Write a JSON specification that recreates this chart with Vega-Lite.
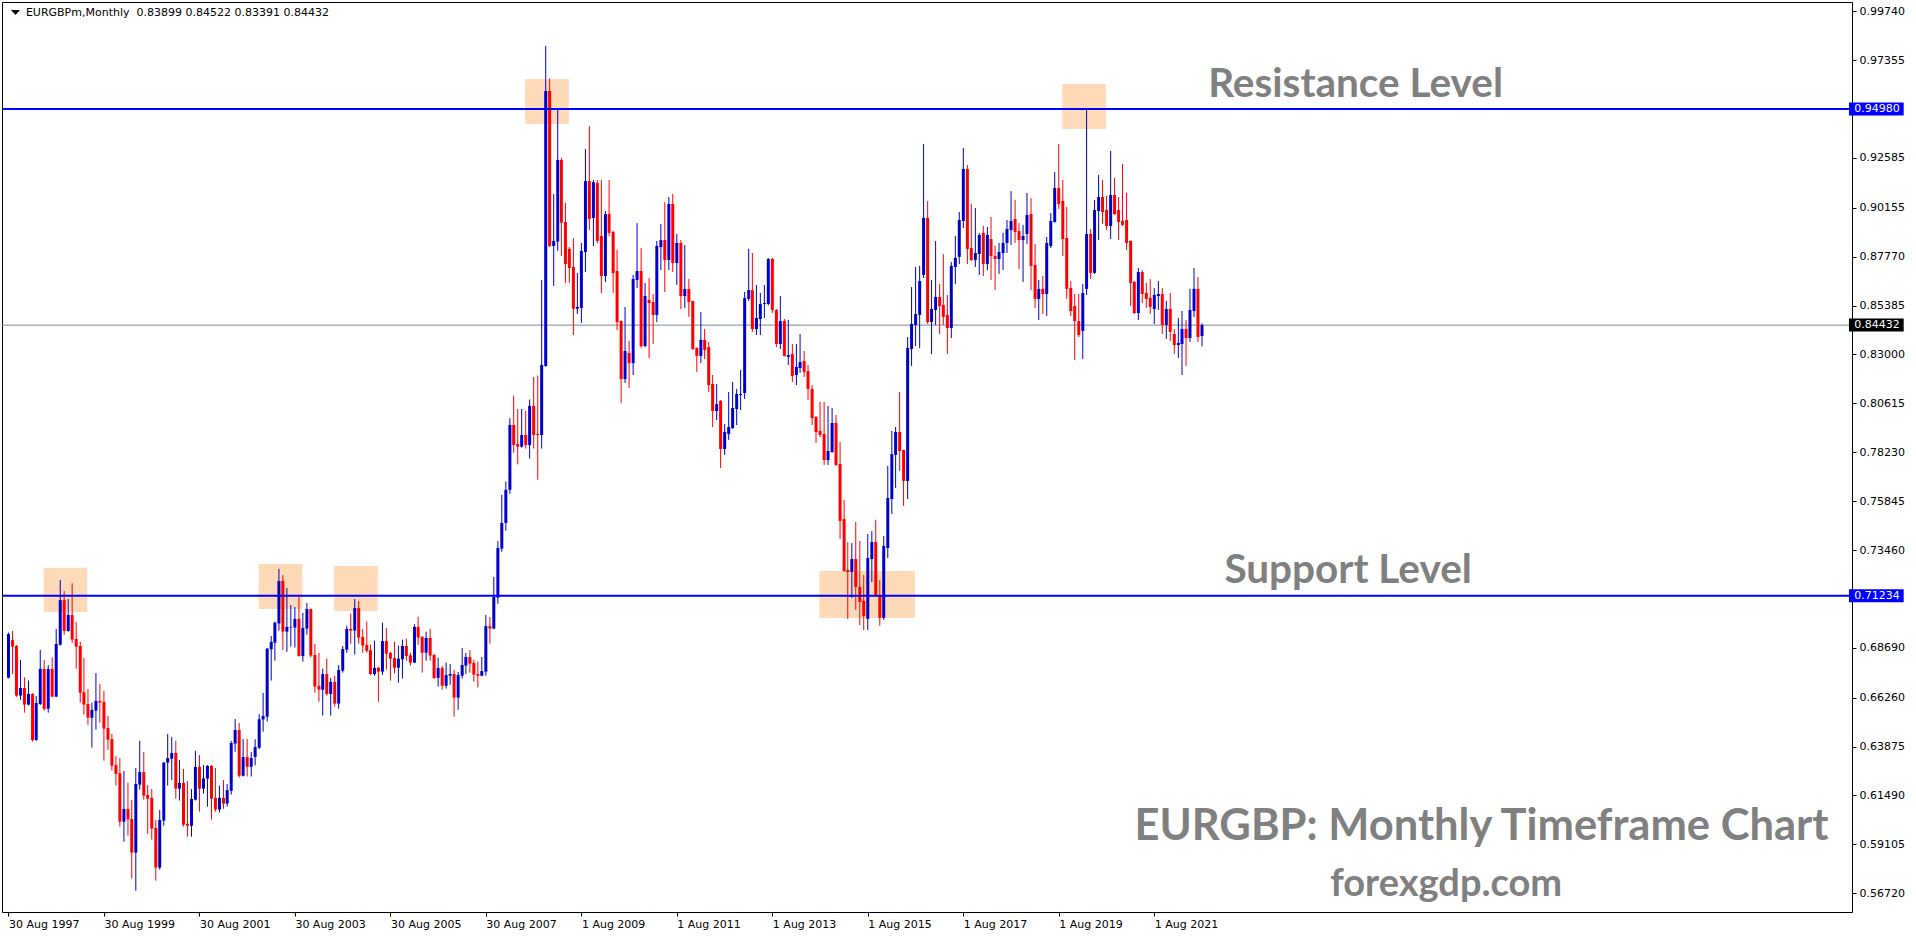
{
"$schema": "https://vega.github.io/schema/vega-lite/v6.json",
"width": 1850, "height": 910,
"autosize": {"type": "none"},
"padding": {"left": 2, "top": 2, "right": 64, "bottom": 24},
"background": "#ffffff",
"config": {"view": {"stroke": "#000000", "strokeWidth": 1}, "axis": {"labelFont": "DejaVu Sans", "labelFontSize": 11, "labelColor": "#000000", "tickColor": "#000000", "tickSize": 4, "grid": false, "domain": false}},
"datasets": {
"levels": [{"level": "Resistance", "price": 0.9498}, {"level": "Support", "price": 0.71234}, {"level": "Current", "price": 0.84432}],
"zones": [
{"start": "1998-04-27", "end": "1999-03-27", "low": 0.70438, "high": 0.72599},
{"start": "2002-10-27", "end": "2003-09-27", "low": 0.70584, "high": 0.72779},
{"start": "2004-05-27", "end": "2005-04-27", "low": 0.70487, "high": 0.72682},
{"start": "2008-05-27", "end": "2009-04-27", "low": 0.94243, "high": 0.96438},
{"start": "2014-07-27", "end": "2016-07-27", "low": 0.70145, "high": 0.72438},
{"start": "2019-08-27", "end": "2020-07-27", "low": 0.93999, "high": 0.96194}
],
"candles": [
{"date":"1997-08-01","open":0.6723,"high":0.6943,"low":0.6720,"close":0.6936},
{"date":"1997-09-01","open":0.6907,"high":0.6951,"low":0.6741,"close":0.6875},
{"date":"1997-10-01","open":0.6878,"high":0.6882,"low":0.6630,"close":0.6636},
{"date":"1997-11-01","open":0.6636,"high":0.6810,"low":0.6615,"close":0.6673},
{"date":"1997-12-01","open":0.6673,"high":0.6725,"low":0.6553,"close":0.6592},
{"date":"1998-01-01","open":0.6592,"high":0.6709,"low":0.6588,"close":0.6644},
{"date":"1998-02-01","open":0.6644,"high":0.6648,"low":0.6412,"close":0.6419},
{"date":"1998-03-01","open":0.6419,"high":0.6634,"low":0.6416,"close":0.6600},
{"date":"1998-04-01","open":0.6595,"high":0.6858,"low":0.6590,"close":0.6766},
{"date":"1998-05-01","open":0.6766,"high":0.6810,"low":0.6563,"close":0.6571},
{"date":"1998-06-01","open":0.6572,"high":0.6785,"low":0.6553,"close":0.6766},
{"date":"1998-07-01","open":0.6766,"high":0.6823,"low":0.6628,"close":0.6631},
{"date":"1998-08-01","open":0.6631,"high":0.6961,"low":0.6628,"close":0.6888},
{"date":"1998-09-01","open":0.6884,"high":0.7200,"low":0.6880,"close":0.7102},
{"date":"1998-10-01","open":0.7102,"high":0.7146,"low":0.6932,"close":0.6951},
{"date":"1998-11-01","open":0.6951,"high":0.7107,"low":0.6948,"close":0.7029},
{"date":"1998-12-01","open":0.7029,"high":0.7184,"low":0.6893,"close":0.6909},
{"date":"1999-01-01","open":0.6912,"high":0.6995,"low":0.6767,"close":0.6875},
{"date":"1999-02-01","open":0.6878,"high":0.6899,"low":0.6602,"close":0.6650},
{"date":"1999-03-01","open":0.6653,"high":0.6819,"low":0.6543,"close":0.6592},
{"date":"1999-04-01","open":0.6595,"high":0.6668,"low":0.6494,"close":0.6528},
{"date":"1999-05-01","open":0.6528,"high":0.6602,"low":0.6382,"close":0.6566},
{"date":"1999-06-01","open":0.6563,"high":0.6746,"low":0.6470,"close":0.6610},
{"date":"1999-07-01","open":0.6610,"high":0.6693,"low":0.6504,"close":0.6602},
{"date":"1999-08-01","open":0.6605,"high":0.6658,"low":0.6319,"close":0.6475},
{"date":"1999-09-01","open":0.6478,"high":0.6537,"low":0.6372,"close":0.6421},
{"date":"1999-10-01","open":0.6424,"high":0.6449,"low":0.6270,"close":0.6294},
{"date":"1999-11-01","open":0.6297,"high":0.6341,"low":0.6197,"close":0.6254},
{"date":"1999-12-01","open":0.6257,"high":0.6331,"low":0.5997,"close":0.6021},
{"date":"2000-01-01","open":0.6021,"high":0.6268,"low":0.5923,"close":0.6083},
{"date":"2000-02-01","open":0.6083,"high":0.6211,"low":0.5953,"close":0.6032},
{"date":"2000-03-01","open":0.6034,"high":0.6127,"low":0.5743,"close":0.5870},
{"date":"2000-04-01","open":0.5870,"high":0.6283,"low":0.5684,"close":0.6205},
{"date":"2000-05-01","open":0.6202,"high":0.6415,"low":0.6177,"close":0.6263},
{"date":"2000-06-01","open":0.6263,"high":0.6361,"low":0.6128,"close":0.6148},
{"date":"2000-07-01","open":0.6151,"high":0.6200,"low":0.5962,"close":0.6133},
{"date":"2000-08-01","open":0.6137,"high":0.6180,"low":0.5933,"close":0.5987},
{"date":"2000-09-01","open":0.5990,"high":0.6029,"low":0.5733,"close":0.5797},
{"date":"2000-10-01","open":0.5797,"high":0.6078,"low":0.5787,"close":0.6029},
{"date":"2000-11-01","open":0.6026,"high":0.6312,"low":0.6001,"close":0.6309},
{"date":"2000-12-01","open":0.6309,"high":0.6449,"low":0.6197,"close":0.6331},
{"date":"2001-01-01","open":0.6328,"high":0.6434,"low":0.6224,"close":0.6356},
{"date":"2001-02-01","open":0.6356,"high":0.6415,"low":0.6133,"close":0.6182},
{"date":"2001-03-01","open":0.6182,"high":0.6322,"low":0.6124,"close":0.6210},
{"date":"2001-04-01","open":0.6210,"high":0.6278,"low":0.5997,"close":0.6006},
{"date":"2001-05-01","open":0.6010,"high":0.6219,"low":0.5948,"close":0.6001},
{"date":"2001-06-01","open":0.6001,"high":0.6180,"low":0.5948,"close":0.6132},
{"date":"2001-07-01","open":0.6128,"high":0.6366,"low":0.6124,"close":0.6288},
{"date":"2001-08-01","open":0.6288,"high":0.6346,"low":0.6070,"close":0.6182},
{"date":"2001-09-01","open":0.6182,"high":0.6297,"low":0.6158,"close":0.6232},
{"date":"2001-10-01","open":0.6231,"high":0.6297,"low":0.6094,"close":0.6293},
{"date":"2001-11-01","open":0.6293,"high":0.6297,"low":0.6031,"close":0.6133},
{"date":"2001-12-01","open":0.6137,"high":0.6283,"low":0.6070,"close":0.6080},
{"date":"2002-01-01","open":0.6080,"high":0.6197,"low":0.6065,"close":0.6137},
{"date":"2002-02-01","open":0.6137,"high":0.6224,"low":0.6084,"close":0.6109},
{"date":"2002-03-01","open":0.6109,"high":0.6205,"low":0.6094,"close":0.6175},
{"date":"2002-04-01","open":0.6172,"high":0.6415,"low":0.6153,"close":0.6405},
{"date":"2002-05-01","open":0.6402,"high":0.6522,"low":0.6362,"close":0.6468},
{"date":"2002-06-01","open":0.6468,"high":0.6502,"low":0.6236,"close":0.6245},
{"date":"2002-07-01","open":0.6245,"high":0.6424,"low":0.6241,"close":0.6336},
{"date":"2002-08-01","open":0.6336,"high":0.6424,"low":0.6241,"close":0.6289},
{"date":"2002-09-01","open":0.6289,"high":0.6361,"low":0.6241,"close":0.6331},
{"date":"2002-10-01","open":0.6337,"high":0.6423,"low":0.6296,"close":0.6385},
{"date":"2002-11-01","open":0.6382,"high":0.6545,"low":0.6374,"close":0.6520},
{"date":"2002-12-01","open":0.6520,"high":0.6649,"low":0.6460,"close":0.6537},
{"date":"2003-01-01","open":0.6533,"high":0.6868,"low":0.6509,"close":0.6865},
{"date":"2003-02-01","open":0.6862,"high":0.6927,"low":0.6709,"close":0.6898},
{"date":"2003-03-01","open":0.6894,"high":0.6997,"low":0.6806,"close":0.6992},
{"date":"2003-04-01","open":0.6988,"high":0.7254,"low":0.6953,"close":0.7195},
{"date":"2003-05-01","open":0.7195,"high":0.7224,"low":0.6858,"close":0.6948},
{"date":"2003-06-01","open":0.6948,"high":0.7161,"low":0.6850,"close":0.6971},
{"date":"2003-07-01","open":0.6968,"high":0.7078,"low":0.6875,"close":0.6971},
{"date":"2003-08-01","open":0.6968,"high":0.7068,"low":0.6870,"close":0.7010},
{"date":"2003-09-01","open":0.7010,"high":0.7117,"low":0.6826,"close":0.6829},
{"date":"2003-10-01","open":0.6829,"high":0.7039,"low":0.6802,"close":0.6966},
{"date":"2003-11-01","open":0.6963,"high":0.7088,"low":0.6933,"close":0.7058},
{"date":"2003-12-01","open":0.7058,"high":0.7060,"low":0.6821,"close":0.6831},
{"date":"2004-01-01","open":0.6834,"high":0.6888,"low":0.6650,"close":0.6680},
{"date":"2004-02-01","open":0.6683,"high":0.6844,"low":0.6606,"close":0.6665},
{"date":"2004-03-01","open":0.6665,"high":0.6767,"low":0.6538,"close":0.6741},
{"date":"2004-04-01","open":0.6741,"high":0.6816,"low":0.6636,"close":0.6644},
{"date":"2004-05-01","open":0.6644,"high":0.6722,"low":0.6538,"close":0.6703},
{"date":"2004-06-01","open":0.6703,"high":0.6732,"low":0.6582,"close":0.6597},
{"date":"2004-07-01","open":0.6597,"high":0.6785,"low":0.6572,"close":0.6761},
{"date":"2004-08-01","open":0.6758,"high":0.6878,"low":0.6748,"close":0.6863},
{"date":"2004-09-01","open":0.6860,"high":0.6977,"low":0.6845,"close":0.6961},
{"date":"2004-10-01","open":0.6961,"high":0.7036,"low":0.6889,"close":0.6953},
{"date":"2004-11-01","open":0.6953,"high":0.7107,"low":0.6836,"close":0.7063},
{"date":"2004-12-01","open":0.7063,"high":0.7097,"low":0.6889,"close":0.6919},
{"date":"2005-01-01","open":0.6922,"high":0.6961,"low":0.6845,"close":0.6880},
{"date":"2005-02-01","open":0.6883,"high":0.6997,"low":0.6845,"close":0.6855},
{"date":"2005-03-01","open":0.6858,"high":0.6885,"low":0.6737,"close":0.6741},
{"date":"2005-04-01","open":0.6741,"high":0.6904,"low":0.6733,"close":0.6771},
{"date":"2005-05-01","open":0.6771,"high":0.6776,"low":0.6606,"close":0.6753},
{"date":"2005-06-01","open":0.6753,"high":0.6992,"low":0.6737,"close":0.6902},
{"date":"2005-07-01","open":0.6902,"high":0.6966,"low":0.6763,"close":0.6841},
{"date":"2005-08-01","open":0.6844,"high":0.6850,"low":0.6709,"close":0.6816},
{"date":"2005-09-01","open":0.6819,"high":0.6899,"low":0.6743,"close":0.6772},
{"date":"2005-10-01","open":0.6772,"high":0.6880,"low":0.6699,"close":0.6816},
{"date":"2005-11-01","open":0.6813,"high":0.6909,"low":0.6719,"close":0.6878},
{"date":"2005-12-01","open":0.6878,"high":0.6914,"low":0.6806,"close":0.6829},
{"date":"2006-01-01","open":0.6832,"high":0.6845,"low":0.6782,"close":0.6797},
{"date":"2006-02-01","open":0.6797,"high":0.6984,"low":0.6795,"close":0.6971},
{"date":"2006-03-01","open":0.6971,"high":0.7021,"low":0.6884,"close":0.6919},
{"date":"2006-04-01","open":0.6922,"high":0.6927,"low":0.6748,"close":0.6845},
{"date":"2006-05-01","open":0.6845,"high":0.6948,"low":0.6806,"close":0.6917},
{"date":"2006-06-01","open":0.6917,"high":0.6961,"low":0.6806,"close":0.6831},
{"date":"2006-07-01","open":0.6834,"high":0.6839,"low":0.6717,"close":0.6722},
{"date":"2006-08-01","open":0.6722,"high":0.6821,"low":0.6680,"close":0.6771},
{"date":"2006-09-01","open":0.6771,"high":0.6780,"low":0.6665,"close":0.6684},
{"date":"2006-10-01","open":0.6684,"high":0.6797,"low":0.6670,"close":0.6736},
{"date":"2006-11-01","open":0.6733,"high":0.6790,"low":0.6689,"close":0.6741},
{"date":"2006-12-01","open":0.6741,"high":0.6762,"low":0.6533,"close":0.6626},
{"date":"2007-01-01","open":0.6626,"high":0.6751,"low":0.6567,"close":0.6736},
{"date":"2007-02-01","open":0.6733,"high":0.6868,"low":0.6719,"close":0.6785},
{"date":"2007-03-01","open":0.6782,"high":0.6844,"low":0.6741,"close":0.6824},
{"date":"2007-04-01","open":0.6824,"high":0.6858,"low":0.6748,"close":0.6792},
{"date":"2007-05-01","open":0.6795,"high":0.6810,"low":0.6704,"close":0.6738},
{"date":"2007-06-01","open":0.6741,"high":0.6802,"low":0.6675,"close":0.6733},
{"date":"2007-07-01","open":0.6733,"high":0.6824,"low":0.6730,"close":0.6756},
{"date":"2007-08-01","open":0.6753,"high":0.7029,"low":0.6733,"close":0.6975},
{"date":"2007-09-01","open":0.6975,"high":0.7019,"low":0.6889,"close":0.6963},
{"date":"2007-10-01","open":0.6963,"high":0.7215,"low":0.6960,"close":0.7117},
{"date":"2007-11-01","open":0.7114,"high":0.7390,"low":0.7084,"close":0.7356},
{"date":"2007-12-01","open":0.7353,"high":0.7615,"low":0.7338,"close":0.7478},
{"date":"2008-01-01","open":0.7478,"high":0.7680,"low":0.7440,"close":0.7640},
{"date":"2008-02-01","open":0.7640,"high":0.7989,"low":0.7620,"close":0.7956},
{"date":"2008-03-01","open":0.7956,"high":0.8099,"low":0.7821,"close":0.7858},
{"date":"2008-04-01","open":0.7863,"high":0.8034,"low":0.7764,"close":0.7850},
{"date":"2008-05-01","open":0.7850,"high":0.8034,"low":0.7845,"close":0.7907},
{"date":"2008-06-01","open":0.7907,"high":0.8024,"low":0.7841,"close":0.7858},
{"date":"2008-07-01","open":0.7858,"high":0.8080,"low":0.7792,"close":0.8049},
{"date":"2008-08-01","open":0.8049,"high":0.8190,"low":0.7841,"close":0.7907},
{"date":"2008-09-01","open":0.7912,"high":0.8197,"low":0.7689,"close":0.7907},
{"date":"2008-10-01","open":0.7907,"high":0.8663,"low":0.7841,"close":0.8249},
{"date":"2008-11-01","open":0.8244,"high":0.9805,"low":0.8240,"close":0.9585},
{"date":"2008-12-01","open":0.9585,"high":0.9647,"low":0.8825,"close":0.8829},
{"date":"2009-01-01","open":0.8829,"high":0.9083,"low":0.8634,"close":0.8854},
{"date":"2009-02-01","open":0.8851,"high":0.9502,"low":0.8805,"close":0.9249},
{"date":"2009-03-01","open":0.9249,"high":0.9259,"low":0.8780,"close":0.8943},
{"date":"2009-04-01","open":0.8946,"high":0.9039,"low":0.8649,"close":0.8741},
{"date":"2009-05-01","open":0.8815,"high":0.8824,"low":0.8649,"close":0.8722},
{"date":"2009-06-01","open":0.8727,"high":0.8868,"low":0.8395,"close":0.8523},
{"date":"2009-07-01","open":0.8523,"high":0.8697,"low":0.8497,"close":0.8532},
{"date":"2009-08-01","open":0.8527,"high":0.8844,"low":0.8454,"close":0.8805},
{"date":"2009-09-01","open":0.8800,"high":0.9302,"low":0.8702,"close":0.9146},
{"date":"2009-10-01","open":0.9146,"high":0.9415,"low":0.8907,"close":0.8961},
{"date":"2009-11-01","open":0.8966,"high":0.9151,"low":0.8829,"close":0.9141},
{"date":"2009-12-01","open":0.9136,"high":0.9151,"low":0.8844,"close":0.8854},
{"date":"2010-01-01","open":0.8878,"high":0.9151,"low":0.8600,"close":0.8683},
{"date":"2010-02-01","open":0.8683,"high":0.9000,"low":0.8654,"close":0.8985},
{"date":"2010-03-01","open":0.8985,"high":0.9151,"low":0.8878,"close":0.8893},
{"date":"2010-04-01","open":0.8898,"high":0.8902,"low":0.8600,"close":0.8697},
{"date":"2010-05-01","open":0.8707,"high":0.8810,"low":0.8419,"close":0.8458},
{"date":"2010-06-01","open":0.8463,"high":0.8466,"low":0.8063,"close":0.8180},
{"date":"2010-07-01","open":0.8180,"high":0.8532,"low":0.8161,"close":0.8317},
{"date":"2010-08-01","open":0.8307,"high":0.8366,"low":0.8137,"close":0.8258},
{"date":"2010-09-01","open":0.8258,"high":0.8688,"low":0.8200,"close":0.8668},
{"date":"2010-10-01","open":0.8663,"high":0.8941,"low":0.8624,"close":0.8707},
{"date":"2010-11-01","open":0.8707,"high":0.8819,"low":0.8332,"close":0.8341},
{"date":"2010-12-01","open":0.8341,"high":0.8649,"low":0.8336,"close":0.8585},
{"date":"2011-01-01","open":0.8566,"high":0.8673,"low":0.8283,"close":0.8551},
{"date":"2011-02-01","open":0.8556,"high":0.8595,"low":0.8351,"close":0.8493},
{"date":"2011-03-01","open":0.8493,"high":0.8854,"low":0.8458,"close":0.8829},
{"date":"2011-04-01","open":0.8824,"high":0.8936,"low":0.8712,"close":0.8858},
{"date":"2011-05-01","open":0.8858,"high":0.9044,"low":0.8605,"close":0.8761},
{"date":"2011-06-01","open":0.8761,"high":0.9068,"low":0.8712,"close":0.9034},
{"date":"2011-07-01","open":0.9034,"high":0.9083,"low":0.8702,"close":0.8746},
{"date":"2011-08-01","open":0.8746,"high":0.8888,"low":0.8639,"close":0.8844},
{"date":"2011-09-01","open":0.8844,"high":0.8858,"low":0.8522,"close":0.8585},
{"date":"2011-10-01","open":0.8585,"high":0.8834,"low":0.8527,"close":0.8619},
{"date":"2011-11-01","open":0.8619,"high":0.8668,"low":0.8483,"close":0.8556},
{"date":"2011-12-01","open":0.8561,"high":0.8563,"low":0.8322,"close":0.8327},
{"date":"2012-01-01","open":0.8332,"high":0.8334,"low":0.8215,"close":0.8293},
{"date":"2012-02-01","open":0.8293,"high":0.8507,"low":0.8258,"close":0.8371},
{"date":"2012-03-01","open":0.8371,"high":0.8424,"low":0.8278,"close":0.8322},
{"date":"2012-04-01","open":0.8336,"high":0.8361,"low":0.8117,"close":0.8151},
{"date":"2012-05-01","open":0.8156,"high":0.8200,"low":0.7946,"close":0.8024},
{"date":"2012-06-01","open":0.8024,"high":0.8156,"low":0.7980,"close":0.8058},
{"date":"2012-07-01","open":0.8073,"high":0.8078,"low":0.7746,"close":0.7839},
{"date":"2012-08-01","open":0.7839,"high":0.7961,"low":0.7810,"close":0.7922},
{"date":"2012-09-01","open":0.7912,"high":0.8117,"low":0.7883,"close":0.7946},
{"date":"2012-10-01","open":0.7941,"high":0.8166,"low":0.7937,"close":0.8039},
{"date":"2012-11-01","open":0.8034,"high":0.8132,"low":0.7956,"close":0.8107},
{"date":"2012-12-01","open":0.8102,"high":0.8224,"low":0.8029,"close":0.8107},
{"date":"2013-01-01","open":0.8112,"high":0.8605,"low":0.8083,"close":0.8575},
{"date":"2013-02-01","open":0.8571,"high":0.8815,"low":0.8561,"close":0.8614},
{"date":"2013-03-01","open":0.8614,"high":0.8795,"low":0.8410,"close":0.8424},
{"date":"2013-04-01","open":0.8424,"high":0.8639,"low":0.8395,"close":0.8478},
{"date":"2013-05-01","open":0.8473,"high":0.8600,"low":0.8395,"close":0.8546},
{"date":"2013-06-01","open":0.8546,"high":0.8639,"low":0.8478,"close":0.8551},
{"date":"2013-07-01","open":0.8546,"high":0.8770,"low":0.8540,"close":0.8766},
{"date":"2013-08-01","open":0.8766,"high":0.8771,"low":0.8502,"close":0.8517},
{"date":"2013-09-01","open":0.8517,"high":0.8522,"low":0.8336,"close":0.8351},
{"date":"2013-10-01","open":0.8351,"high":0.8585,"low":0.8327,"close":0.8463},
{"date":"2013-11-01","open":0.8463,"high":0.8473,"low":0.8290,"close":0.8293},
{"date":"2013-12-01","open":0.8288,"high":0.8468,"low":0.8249,"close":0.8297},
{"date":"2014-01-01","open":0.8302,"high":0.8351,"low":0.8166,"close":0.8195},
{"date":"2014-02-01","open":0.8200,"high":0.8351,"low":0.8151,"close":0.8239},
{"date":"2014-03-01","open":0.8234,"high":0.8400,"low":0.8210,"close":0.8263},
{"date":"2014-04-01","open":0.8268,"high":0.8317,"low":0.8190,"close":0.8215},
{"date":"2014-05-01","open":0.8219,"high":0.8249,"low":0.8078,"close":0.8132},
{"date":"2014-06-01","open":0.8132,"high":0.8151,"low":0.7956,"close":0.7990},
{"date":"2014-07-01","open":0.7995,"high":0.8000,"low":0.7868,"close":0.7922},
{"date":"2014-08-01","open":0.7927,"high":0.8068,"low":0.7897,"close":0.7907},
{"date":"2014-09-01","open":0.7912,"high":0.8068,"low":0.7761,"close":0.7785},
{"date":"2014-10-01","open":0.7785,"high":0.8049,"low":0.7761,"close":0.7829},
{"date":"2014-11-01","open":0.7824,"high":0.8039,"low":0.7820,"close":0.7966},
{"date":"2014-12-01","open":0.7966,"high":0.8005,"low":0.7756,"close":0.7761},
{"date":"2015-01-01","open":0.7766,"high":0.7873,"low":0.7400,"close":0.7488},
{"date":"2015-02-01","open":0.7497,"high":0.7590,"low":0.7239,"close":0.7244},
{"date":"2015-03-01","open":0.7249,"high":0.7385,"low":0.7010,"close":0.7239},
{"date":"2015-04-01","open":0.7239,"high":0.7380,"low":0.7112,"close":0.7302},
{"date":"2015-05-01","open":0.7302,"high":0.7483,"low":0.7054,"close":0.7166},
{"date":"2015-06-01","open":0.7166,"high":0.7390,"low":0.6980,"close":0.7093},
{"date":"2015-07-01","open":0.7098,"high":0.7224,"low":0.6956,"close":0.7024},
{"date":"2015-08-01","open":0.7010,"high":0.7424,"low":0.6956,"close":0.7307},
{"date":"2015-09-01","open":0.7302,"high":0.7439,"low":0.7190,"close":0.7385},
{"date":"2015-10-01","open":0.7385,"high":0.7493,"low":0.7117,"close":0.7122},
{"date":"2015-11-01","open":0.7127,"high":0.7200,"low":0.6976,"close":0.7015},
{"date":"2015-12-01","open":0.7015,"high":0.7415,"low":0.7005,"close":0.7366},
{"date":"2016-01-01","open":0.7356,"high":0.7756,"low":0.7307,"close":0.7600},
{"date":"2016-02-01","open":0.7595,"high":0.7927,"low":0.7522,"close":0.7814},
{"date":"2016-03-01","open":0.7810,"high":0.7946,"low":0.7649,"close":0.7922},
{"date":"2016-04-01","open":0.7922,"high":0.8117,"low":0.7732,"close":0.7829},
{"date":"2016-05-01","open":0.7834,"high":0.7836,"low":0.7561,"close":0.7683},
{"date":"2016-06-01","open":0.7683,"high":0.8385,"low":0.7595,"close":0.8332},
{"date":"2016-07-01","open":0.8327,"high":0.8629,"low":0.8244,"close":0.8449},
{"date":"2016-08-01","open":0.8444,"high":0.8727,"low":0.8341,"close":0.8497},
{"date":"2016-09-01","open":0.8493,"high":0.8732,"low":0.8332,"close":0.8658},
{"date":"2016-10-01","open":0.8688,"high":0.9327,"low":0.8673,"close":0.8966},
{"date":"2016-11-01","open":0.8966,"high":0.9049,"low":0.8449,"close":0.8458},
{"date":"2016-12-01","open":0.8458,"high":0.8663,"low":0.8302,"close":0.8522},
{"date":"2017-01-01","open":0.8517,"high":0.8853,"low":0.8444,"close":0.8580},
{"date":"2017-02-01","open":0.8580,"high":0.8644,"low":0.8400,"close":0.8536},
{"date":"2017-03-01","open":0.8541,"high":0.8790,"low":0.8444,"close":0.8483},
{"date":"2017-04-01","open":0.8493,"high":0.8590,"low":0.8302,"close":0.8429},
{"date":"2017-05-01","open":0.8429,"high":0.8751,"low":0.8380,"close":0.8732},
{"date":"2017-06-01","open":0.8727,"high":0.8878,"low":0.8644,"close":0.8771},
{"date":"2017-07-01","open":0.8776,"high":0.8995,"low":0.8741,"close":0.8956},
{"date":"2017-08-01","open":0.8951,"high":0.9307,"low":0.8917,"close":0.9205},
{"date":"2017-09-01","open":0.9205,"high":0.9224,"low":0.8741,"close":0.8815},
{"date":"2017-10-01","open":0.8819,"high":0.9034,"low":0.8756,"close":0.8761},
{"date":"2017-11-01","open":0.8761,"high":0.9015,"low":0.8727,"close":0.8795},
{"date":"2017-12-01","open":0.8790,"high":0.8893,"low":0.8688,"close":0.8883},
{"date":"2018-01-01","open":0.8893,"high":0.8927,"low":0.8683,"close":0.8741},
{"date":"2018-02-01","open":0.8741,"high":0.8922,"low":0.8712,"close":0.8883},
{"date":"2018-03-01","open":0.8863,"high":0.8971,"low":0.8663,"close":0.8780},
{"date":"2018-04-01","open":0.8780,"high":0.8829,"low":0.8615,"close":0.8766},
{"date":"2018-05-01","open":0.8766,"high":0.8844,"low":0.8693,"close":0.8800},
{"date":"2018-06-01","open":0.8795,"high":0.8893,"low":0.8712,"close":0.8844},
{"date":"2018-07-01","open":0.8844,"high":0.8956,"low":0.8795,"close":0.8912},
{"date":"2018-08-01","open":0.8907,"high":0.9097,"low":0.8834,"close":0.8951},
{"date":"2018-09-01","open":0.8961,"high":0.9054,"low":0.8844,"close":0.8898},
{"date":"2018-10-01","open":0.8902,"high":0.8941,"low":0.8717,"close":0.8858},
{"date":"2018-11-01","open":0.8858,"high":0.8932,"low":0.8654,"close":0.8878},
{"date":"2018-12-01","open":0.8888,"high":0.9088,"low":0.8839,"close":0.8980},
{"date":"2019-01-01","open":0.8985,"high":0.9063,"low":0.8615,"close":0.8732},
{"date":"2019-02-01","open":0.8737,"high":0.8839,"low":0.8527,"close":0.8571},
{"date":"2019-03-01","open":0.8571,"high":0.8663,"low":0.8468,"close":0.8620},
{"date":"2019-04-01","open":0.8620,"high":0.8683,"low":0.8498,"close":0.8595},
{"date":"2019-05-01","open":0.8595,"high":0.8873,"low":0.8488,"close":0.8844},
{"date":"2019-06-01","open":0.8829,"high":0.8990,"low":0.8819,"close":0.8951},
{"date":"2019-07-01","open":0.8946,"high":0.9190,"low":0.8944,"close":0.9112},
{"date":"2019-08-01","open":0.9112,"high":0.9327,"low":0.9010,"close":0.9034},
{"date":"2019-09-01","open":0.9049,"high":0.9151,"low":0.8780,"close":0.8863},
{"date":"2019-10-01","open":0.8868,"high":0.9020,"low":0.8571,"close":0.8620},
{"date":"2019-11-01","open":0.8624,"high":0.8658,"low":0.8488,"close":0.8512},
{"date":"2019-12-01","open":0.8536,"high":0.8595,"low":0.8273,"close":0.8463},
{"date":"2020-01-01","open":0.8463,"high":0.8595,"low":0.8385,"close":0.8395},
{"date":"2020-02-01","open":0.8415,"high":0.8644,"low":0.8278,"close":0.8600},
{"date":"2020-03-01","open":0.8620,"high":0.9502,"low":0.8590,"close":0.8888},
{"date":"2020-04-01","open":0.8888,"high":0.8912,"low":0.8668,"close":0.8698},
{"date":"2020-05-01","open":0.8698,"high":0.9054,"low":0.8693,"close":0.9005},
{"date":"2020-06-01","open":0.9000,"high":0.9176,"low":0.8858,"close":0.9068},
{"date":"2020-07-01","open":0.9068,"high":0.9151,"low":0.8937,"close":0.8995},
{"date":"2020-08-01","open":0.9005,"high":0.9073,"low":0.8907,"close":0.8927},
{"date":"2020-09-01","open":0.8927,"high":0.9293,"low":0.8863,"close":0.9078},
{"date":"2020-10-01","open":0.9078,"high":0.9161,"low":0.8980,"close":0.8985},
{"date":"2020-11-01","open":0.9005,"high":0.9068,"low":0.8858,"close":0.8946},
{"date":"2020-12-01","open":0.8951,"high":0.9229,"low":0.8927,"close":0.8932},
{"date":"2021-01-01","open":0.8956,"high":0.9088,"low":0.8810,"close":0.8844},
{"date":"2021-02-01","open":0.8854,"high":0.8856,"low":0.8537,"close":0.8649},
{"date":"2021-03-01","open":0.8654,"high":0.8658,"low":0.8498,"close":0.8502},
{"date":"2021-04-01","open":0.8502,"high":0.8722,"low":0.8468,"close":0.8702},
{"date":"2021-05-01","open":0.8702,"high":0.8712,"low":0.8551,"close":0.8595},
{"date":"2021-06-01","open":0.8600,"high":0.8649,"low":0.8527,"close":0.8571},
{"date":"2021-07-01","open":0.8576,"high":0.8668,"low":0.8498,"close":0.8532},
{"date":"2021-08-01","open":0.8522,"high":0.8624,"low":0.8449,"close":0.8590},
{"date":"2021-09-01","open":0.8585,"high":0.8658,"low":0.8517,"close":0.8595},
{"date":"2021-10-01","open":0.8595,"high":0.8624,"low":0.8400,"close":0.8444},
{"date":"2021-11-01","open":0.8444,"high":0.8561,"low":0.8376,"close":0.8522},
{"date":"2021-12-01","open":0.8522,"high":0.8600,"low":0.8366,"close":0.8410},
{"date":"2022-01-01","open":0.8400,"high":0.8424,"low":0.8302,"close":0.8346},
{"date":"2022-02-01","open":0.8346,"high":0.8478,"low":0.8283,"close":0.8356},
{"date":"2022-03-01","open":0.8351,"high":0.8512,"low":0.8200,"close":0.8424},
{"date":"2022-04-01","open":0.8424,"high":0.8468,"low":0.8244,"close":0.8380},
{"date":"2022-05-01","open":0.8380,"high":0.8620,"low":0.8361,"close":0.8517},
{"date":"2022-06-01","open":0.8512,"high":0.8722,"low":0.8483,"close":0.8620},
{"date":"2022-07-01","open":0.8620,"high":0.8678,"low":0.8361,"close":0.8385},
{"date":"2022-08-01","open":0.83899,"high":0.84522,"low":0.83391,"close":0.84432}
]
},
"layer": [
{
"data": {"name": "zones"},
"mark": {"type": "rect", "color": "#ffdab9"},
"encoding": {
"x": {"field": "start", "type": "temporal",
 "scale": {"type": "utc", "nice": false, "domain": [{"year": 1997, "month": 7, "date": 20, "hours": 14, "utc": true}, {"year": 2036, "month": 2, "date": 3, "hours": 14, "utc": true}]},
 "axis": {"orient": "bottom", "title": null, "labelAlign": "left", "labelFlush": false, "labelOverlap": false, "labelPadding": 2, "labelBaseline": "top", "labelDx": -4,
  "values": [{"year": 1997, "month": 8, "date": 1, "utc": true}, {"year": 1999, "month": 8, "date": 1, "utc": true}, {"year": 2001, "month": 8, "date": 1, "utc": true}, {"year": 2003, "month": 8, "date": 1, "utc": true}, {"year": 2005, "month": 8, "date": 1, "utc": true}, {"year": 2007, "month": 8, "date": 1, "utc": true}, {"year": 2009, "month": 8, "date": 1, "utc": true}, {"year": 2011, "month": 8, "date": 1, "utc": true}, {"year": 2013, "month": 8, "date": 1, "utc": true}, {"year": 2015, "month": 8, "date": 1, "utc": true}, {"year": 2017, "month": 8, "date": 1, "utc": true}, {"year": 2019, "month": 8, "date": 1, "utc": true}, {"year": 2021, "month": 8, "date": 1, "utc": true}],
  "labelExpr": "(utcyear(datum.value) <= 2007 ? '30 ' : '1 ') + utcFormat(datum.value, '%b %Y')"}},
"x2": {"field": "end"},
"y": {"field": "low", "type": "quantitative",
 "scale": {"domain": [0.55803, 1.00194], "zero": false, "nice": false},
 "axis": {"orient": "right", "title": null, "format": ".5f", "labelPadding": 3, "labelFlush": false, "labelOverlap": false, "labelBaseline": "middle",
  "values": [0.9974, 0.97355, 0.92585, 0.90155, 0.8777, 0.85385, 0.83, 0.80615, 0.7823, 0.75845, 0.7346, 0.6869, 0.6626, 0.63875, 0.6149, 0.59105, 0.5672]}},
"y2": {"field": "high"}
}
},
{
"data": {"name": "levels"},
"transform": [{"filter": "datum.level === 'Current'"}],
"mark": {"type": "rule", "color": "#778899", "strokeWidth": 1},
"encoding": {"y": {"field": "price", "type": "quantitative"}}
},
{
"data": {"name": "candles"},
"mark": {"type": "rule", "strokeWidth": 1},
"encoding": {
"x": {"field": "date", "type": "temporal"},
"y": {"field": "low", "type": "quantitative"},
"y2": {"field": "high"},
"color": {"condition": {"test": "datum.close >= datum.open", "value": "#0000cd"}, "value": "#ff0000"}
}
},
{
"data": {"name": "candles"},
"mark": {"type": "bar", "width": 3},
"encoding": {
"x": {"field": "date", "type": "temporal"},
"y": {"field": "open", "type": "quantitative"},
"y2": {"field": "close"},
"color": {"condition": {"test": "datum.close >= datum.open", "value": "#0000cd"}, "value": "#ff0000"}
}
},
{
"data": {"name": "levels"},
"transform": [{"filter": "datum.level !== 'Current'"}],
"mark": {"type": "rule", "color": "#0000ff", "strokeWidth": 2},
"encoding": {"y": {"field": "price", "type": "quantitative"}}
},
{
"data": {"values": [{"note": "Resistance Level", "date": "2025-10-19", "price": 0.95545}, {"note": "Support Level", "date": "2025-08-23", "price": 0.71853}]},
"mark": {"type": "text", "font": "Lato", "fontWeight": "bold", "fontSize": 40.5, "color": "#808080", "align": "center", "baseline": "alphabetic"},
"encoding": {"x": {"field": "date", "type": "temporal"}, "y": {"field": "price", "type": "quantitative"}, "text": {"field": "note"}}
},
{
"data": {"values": [{"note": "EURGBP: Monthly Timeframe Chart", "date": "2028-06-08", "price": 0.59316}]},
"mark": {"type": "text", "font": "Lato", "fontWeight": "bold", "fontSize": 43.5, "color": "#808080", "align": "center", "baseline": "alphabetic"},
"encoding": {"x": {"field": "date", "type": "temporal"}, "y": {"field": "price", "type": "quantitative"}, "text": {"field": "note"}}
},
{
"data": {"values": [{"note": "forexgdp.com", "date": "2027-09-12", "price": 0.56584}]},
"mark": {"type": "text", "font": "Lato", "fontWeight": "bold", "fontSize": 38, "color": "#808080", "align": "center", "baseline": "alphabetic"},
"encoding": {"x": {"field": "date", "type": "temporal"}, "y": {"field": "price", "type": "quantitative"}, "text": {"field": "note"}}
},
{
"data": {"values": [{"symbol": "EURGBPm"}]},
"mark": {"type": "point", "shape": "M -1 -0.55 L 1 -0.55 L 0 0.55 Z", "size": 81, "filled": true, "color": "#000000", "opacity": 1},
"encoding": {"x": {"datum": {"year": 1997, "month": 9, "date": 23, "hours": 7, "utc": true}, "type": "temporal"}, "y": {"datum": 0.99682, "type": "quantitative"}}
},
{
"data": {"values": [{"header": "EURGBPm,Monthly\u00a0\u00a00.83899 0.84522 0.83391 0.84432"}]},
"mark": {"type": "text", "font": "DejaVu Sans", "fontSize": 11, "color": "#000000", "align": "left", "baseline": "middle"},
"encoding": {"x": {"datum": {"year": 1997, "month": 12, "date": 12, "hours": 4, "utc": true}, "type": "temporal"}, "y": {"datum": 0.99672, "type": "quantitative"}, "text": {"field": "header"}}
},
{
"data": {"name": "levels"},
"mark": {"type": "rule", "strokeWidth": 13, "strokeCap": "butt"},
"encoding": {
"x": {"datum": {"year": 2036, "month": 2, "date": 18, "hours": 19, "utc": true}, "type": "temporal"},
"x2": {"datum": {"year": 2037, "month": 4, "date": 12, "hours": 7, "utc": true}},
"y": {"field": "price", "type": "quantitative"},
"color": {"condition": {"test": "datum.level === 'Current'", "value": "#000000"}, "value": "#0000ff"}
}
},
{
"data": {"name": "levels"},
"mark": {"type": "text", "font": "DejaVu Sans", "fontSize": 11, "color": "#ffffff", "align": "left", "baseline": "middle"},
"encoding": {
"x": {"datum": {"year": 2036, "month": 3, "date": 30, "hours": 2, "utc": true}, "type": "temporal"},
"y": {"field": "price", "type": "quantitative"},
"text": {"field": "price", "format": ".5f"}
}
}
]
}
